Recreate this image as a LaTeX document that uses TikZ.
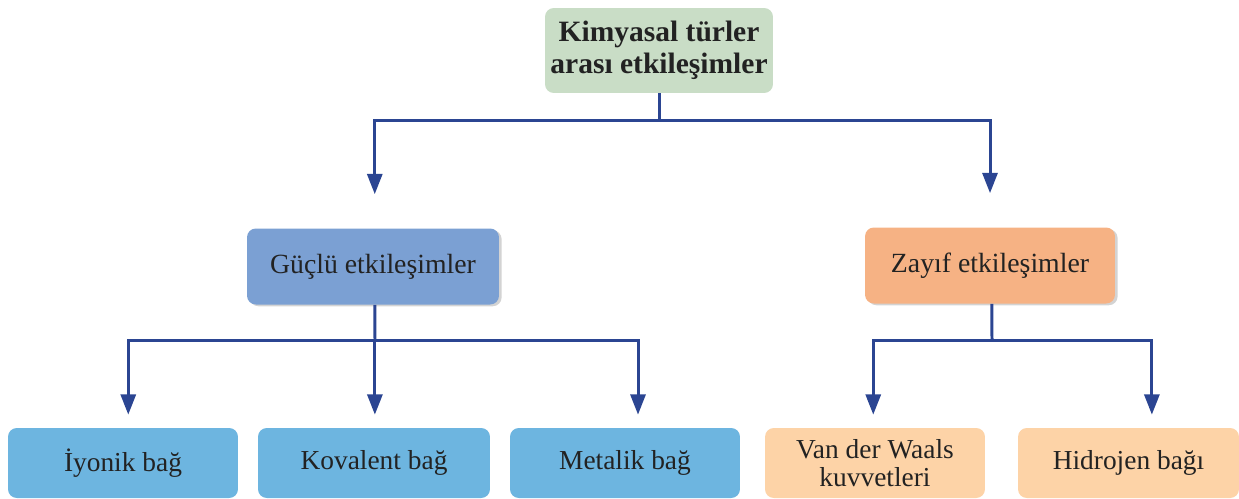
\documentclass[tikz,border=0pt]{standalone}
\usepackage{fontspec}
\setmainfont{Liberation Serif}
\usetikzlibrary{arrows.meta,shadows}
\definecolor{linkblue}{HTML}{2B4592}
\definecolor{topgreen}{HTML}{C9DDC6}
\definecolor{strongblue}{HTML}{7BA0D3}
\definecolor{weakorange}{HTML}{F6B284}
\definecolor{bondblue}{HTML}{6DB5E0}
\definecolor{bondpeach}{HTML}{FDD3A7}
\definecolor{inktext}{HTML}{222222}
\tikzset{
  box/.style={rounded corners=5pt, align=center, text=inktext, inner sep=0pt},
  topbox/.style={box, fill=topgreen, minimum width=4.56cm, minimum height=1.7cm,
    font=\fontsize{16.8}{18.5}\selectfont\bfseries},
  midbox/.style={box, minimum height=1.52cm, font=\fontsize{15.8}{17}\selectfont,
    drop shadow={shadow xshift=1.5pt, shadow yshift=-1pt, opacity=0.35}},
  leafbox/.style={box, minimum height=1.4cm, font=\fontsize{15.6}{16.2}\selectfont},
  link/.style={draw=linkblue, line width=1.7pt},
  arrowlink/.style={link, -{Triangle[width=8.5pt,length=11.5pt]}},
}
\begin{document}
\begin{tikzpicture}[x=0.02cm, y=-0.02cm]
  \useasboundingbox (0,0) rectangle (1239,498);

  % root
  \node[topbox] (root) at (659,50.5) {Kimyasal türler\\arası etkileşimler};

  % two families of interactions
  \node[midbox, fill=strongblue, minimum width=5.04cm] (strong) at (373,266.5) {Güçlü etkileşimler};
  \node[midbox, fill=weakorange, minimum width=5.0cm] (weak) at (990,265.5) {Zayıf etkileşimler};

  % bond types
  \node[leafbox, fill=bondblue, minimum width=4.6cm] (ionic) at (123,463) {İyonik bağ};
  \node[leafbox, fill=bondblue, minimum width=4.64cm] (covalent) at (374,463) {Kovalent bağ};
  \node[leafbox, fill=bondblue, minimum width=4.6cm] (metallic) at (625,463) {Metalik bağ};
  \node[leafbox, fill=bondpeach, minimum width=4.4cm] (vdw) at (875,463) {Van der Waals\\kuvvetleri};
  \node[leafbox, fill=bondpeach, minimum width=4.42cm] (hbond) at (1128.5,463) {Hidrojen bağı};

  % root to families
  \coordinate (busA) at (659,120);
  \draw[link] (root.south) -- (busA);
  \draw[arrowlink, shorten >=0.68cm] (busA) -| ([xshift=1pt]strong.north);
  \draw[arrowlink, shorten >=0.68cm] (busA) -| (weak.north);

  % strong interactions to bonds
  \coordinate (busB) at (375,340);
  \draw[link] ([xshift=1pt]strong.south) -- (busB);
  \draw[arrowlink, shorten >=0.26cm] (busB) -| ([xshift=3pt]ionic.north);
  \draw[arrowlink, shorten >=0.26cm] (busB) -| ([xshift=0.5pt]covalent.north);
  \draw[arrowlink, shorten >=0.26cm] (busB) -| ([xshift=7.4pt]metallic.north);

  % weak interactions to forces
  \coordinate (busC) at (992,340);
  \draw[link] ([xshift=1pt]weak.south) -- (busC);
  \draw[arrowlink, shorten >=0.26cm] (busC) -| ([xshift=-1pt]vdw.north);
  \draw[arrowlink, shorten >=0.26cm] (busC) -| ([xshift=13.3pt]hbond.north);
\end{tikzpicture}
\end{document}
